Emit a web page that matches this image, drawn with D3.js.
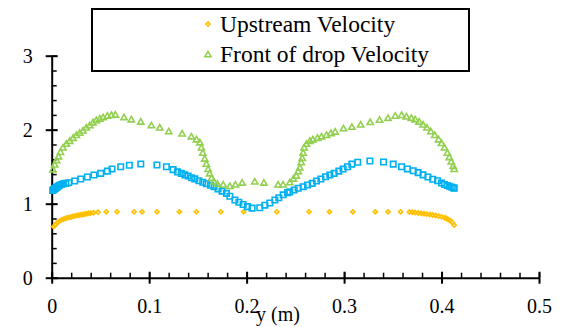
<!DOCTYPE html>
<html>
<head>
<meta charset="utf-8">
<script src="https://cdn.jsdelivr.net/npm/d3@7/dist/d3.min.js"></script>
<style>
  html, body { margin: 0; padding: 0; background: #fff; }
  svg { display: block; }
</style>
</head>
<body>
<svg id="chart" width="581" height="327"></svg>
<script>
// Velocity profiles across the channel width, y (m)
const upstream = [
  [0.002,0.69],[0.004,0.72],[0.006,0.745],[0.008,0.765],[0.010,0.78],[0.012,0.79],
  [0.014,0.80],[0.016,0.81],[0.018,0.815],[0.020,0.82],[0.022,0.83],[0.024,0.835],
  [0.026,0.84],[0.028,0.845],[0.030,0.85],[0.032,0.855],[0.034,0.86],[0.036,0.865],
  [0.038,0.87],[0.040,0.873],[0.043,0.877],[0.0475,0.885],[0.056,0.89],[0.067,0.89],
  [0.0845,0.89],[0.0927,0.89],[0.108,0.89],[0.131,0.89],[0.1485,0.89],[0.1735,0.89],
  [0.197,0.89],[0.231,0.89],[0.264,0.89],[0.285,0.89],[0.309,0.89],[0.332,0.89],
  [0.345,0.89],[0.358,0.89],[0.367,0.888],[0.370,0.885],[0.373,0.88],[0.376,0.875],
  [0.379,0.87],[0.382,0.865],[0.385,0.86],[0.388,0.855],[0.391,0.848],[0.394,0.84],
  [0.397,0.832],[0.400,0.822],[0.403,0.81],[0.405,0.8],[0.407,0.785],[0.409,0.77],
  [0.411,0.745],[0.413,0.71]
];

const rearDrop = [
  [0.001,1.18],[0.002,1.19],[0.003,1.2],[0.004,1.21],[0.005,1.22],[0.006,1.23],
  [0.007,1.24],[0.008,1.25],[0.010,1.26],[0.012,1.27],[0.0145,1.275],[0.0175,1.284],
  [0.0236,1.307],[0.0298,1.334],[0.0366,1.36],[0.0434,1.388],[0.0503,1.41],[0.0571,1.44],
  [0.0619,1.47],[0.0708,1.5],[0.0797,1.52],[0.0914,1.537],[0.108,1.523],[0.1177,1.5],
  [0.1246,1.46],[0.129,1.43],[0.133,1.41],[0.1366,1.39],[0.14,1.375],[0.1434,1.35],
  [0.1468,1.335],[0.151,1.31],[0.155,1.29],[0.1587,1.27],[0.163,1.25],[0.1666,1.23],
  [0.1707,1.2],[0.1748,1.17],[0.1793,1.14],[0.1828,1.1],[0.188,1.05],[0.192,1.02],
  [0.1964,0.99],[0.2008,0.96],[0.2056,0.94],[0.2135,0.946],[0.2187,0.98],[0.2238,1.01],
  [0.229,1.05],[0.233,1.08],[0.2375,1.12],[0.242,1.15],[0.2443,1.16],[0.2488,1.185],
  [0.2529,1.208],[0.258,1.23],[0.2625,1.253],[0.2673,1.275],[0.2717,1.307],[0.2762,1.334],
  [0.281,1.365],[0.2854,1.388],[0.2898,1.41],[0.2946,1.44],[0.299,1.468],[0.3035,1.5],
  [0.308,1.535],[0.314,1.56],[0.3265,1.577],[0.3405,1.563],[0.3504,1.535],[0.359,1.5],
  [0.365,1.47],[0.371,1.446],[0.376,1.42],[0.381,1.39],[0.386,1.36],[0.391,1.33],
  [0.396,1.31],[0.400,1.28],[0.403,1.26],[0.406,1.245],[0.408,1.235],[0.410,1.225],
  [0.412,1.215],[0.413,1.21]
];

const frontDrop = [
  [0.0013,1.455],[0.003,1.52],[0.005,1.58],[0.007,1.63],[0.009,1.69],[0.0116,1.75],
  [0.015,1.8],[0.0185,1.84],[0.0219,1.88],[0.0253,1.92],[0.0287,1.95],[0.0321,1.98],
  [0.0355,2.02],[0.039,2.05],[0.0424,2.09],[0.0458,2.12],[0.0493,2.14],[0.0527,2.16],
  [0.0571,2.18],[0.0613,2.19],[0.0653,2.195],[0.0742,2.16],[0.0817,2.13],[0.0914,2.1],
  [0.1023,2.05],[0.1109,2.02],[0.1201,1.97],[0.1338,1.94],[0.1433,1.9],[0.1485,1.86],
  [0.152,1.82],[0.1536,1.75],[0.155,1.68],[0.157,1.6],[0.1587,1.53],[0.1605,1.46],
  [0.162,1.4],[0.164,1.34],[0.1666,1.29],[0.170,1.26],[0.176,1.25],[0.1828,1.23],
  [0.1885,1.25],[0.1954,1.276],[0.2084,1.29],[0.2177,1.276],[0.2323,1.25],[0.2374,1.25],
  [0.2443,1.28],[0.248,1.33],[0.251,1.37],[0.253,1.43],[0.2546,1.48],[0.256,1.55],
  [0.257,1.61],[0.258,1.68],[0.259,1.75],[0.2614,1.8],[0.265,1.84],[0.268,1.86],
  [0.2727,1.88],[0.2768,1.9],[0.282,1.92],[0.2865,1.945],[0.2909,1.965],[0.2994,2.01],
  [0.308,2.03],[0.317,2.06],[0.3268,2.095],[0.3364,2.125],[0.345,2.15],[0.3525,2.18],
  [0.359,2.19],[0.364,2.17],[0.369,2.15],[0.373,2.13],[0.377,2.1],[0.381,2.06],
  [0.385,2.02],[0.389,1.97],[0.393,1.92],[0.397,1.86],[0.400,1.81],[0.403,1.75],
  [0.406,1.68],[0.408,1.62],[0.410,1.56],[0.412,1.5],[0.413,1.46]
];

const xTicks = [0, 0.1, 0.2, 0.3, 0.4, 0.5];
const xMinorTicks = d3.range(0, 0.5001, 0.02);
const yTicks = [0, 1, 2, 3];
const yMinorTicks = d3.range(0, 3.001, 0.2);
const legendLabels = ["Upstream Velocity", "Front of drop Velocity"];
const xTitle = "y (m)";

const colors = { upstream: "#FFC000", rear: "#00B0F0", front: "#92D050" };
const serif = "Liberation Serif";

const svg = d3.select("#chart");
const plotLeft = 51.7, plotRight = 539, plotTop = 55.7, plotBottom = 277.7;

const x = d3.scaleLinear().domain([0, 0.5]).range([plotLeft, plotRight]);
const y = d3.scaleLinear().domain([0, 3]).range([plotBottom, plotTop]);

// minor ticks pointing into the plot
svg.append("g")
  .attr("transform", `translate(0,${plotBottom})`)
  .call(d3.axisTop(x).tickValues(xMinorTicks).tickSize(5).tickFormat(""))
  .call(g => g.select(".domain").remove())
  .call(g => g.selectAll("line").attr("stroke", "#000").attr("stroke-width", 1.5));

svg.append("g")
  .attr("transform", `translate(${plotLeft},0)`)
  .call(d3.axisRight(y).tickValues(yMinorTicks).tickSize(5).tickFormat(""))
  .call(g => g.select(".domain").remove())
  .call(g => g.selectAll("line").attr("stroke", "#000").attr("stroke-width", 1.5));

// major axes with ticks crossing the axis line
const xAxis = svg.append("g")
  .attr("transform", `translate(0,${plotBottom})`)
  .call(d3.axisBottom(x).tickValues(xTicks).tickSize(6).tickSizeOuter(0).tickPadding(15)
    .tickFormat(d => d === 0 ? "0" : d3.format(".1f")(d)));
xAxis.select(".domain").attr("stroke", "#000").attr("stroke-width", 2);
xAxis.selectAll(".tick line").attr("y1", -6).attr("stroke", "#000").attr("stroke-width", 2);
xAxis.selectAll("text").attr("fill", "#000")
  .style("font-family", serif).style("font-size", "20px");

const yAxis = svg.append("g")
  .attr("transform", `translate(${plotLeft},0)`)
  .call(d3.axisLeft(y).tickValues(yTicks).tickSize(6).tickSizeOuter(0).tickPadding(13)
    .tickFormat(d3.format("d")));
yAxis.select(".domain").attr("stroke", "#000").attr("stroke-width", 2);
yAxis.selectAll(".tick line").attr("x1", 6).attr("stroke", "#000").attr("stroke-width", 2);
yAxis.selectAll("text").attr("fill", "#000")
  .style("font-family", serif).style("font-size", "20px");

// axis title
svg.append("text")
  .attr("x", 278).attr("y", 321)
  .attr("text-anchor", "middle")
  .style("font-family", serif).style("font-size", "20px")
  .text(xTitle);

// markers
const square = d3.symbol().type(d3.symbolSquare).size(30);
const triangle = d3.symbol().type(d3.symbolTriangle).size(17);
const diamond = d3.symbol().type(d3.symbolDiamond2).size(11);

function drawSeries(data, shape, color, sw) {
  svg.append("g")
    .selectAll("path")
    .data(data)
    .join("path")
    .attr("d", shape)
    .attr("transform", d => `translate(${x(d[0])},${y(d[1])})`)
    .attr("fill", "none")
    .attr("stroke", color)
    .attr("stroke-width", sw);
}

drawSeries(upstream, diamond, colors.upstream, 1.6);
drawSeries(rearDrop, square, colors.rear, 1.6);
drawSeries(frontDrop, triangle, colors.front, 1.6);

// legend
const legend = svg.append("g");
legend.append("rect")
  .attr("x", 92).attr("y", 9).attr("width", 377).attr("height", 62)
  .attr("fill", "#fff").attr("stroke", "#000").attr("stroke-width", 2);

const legendItems = [
  { label: legendLabels[0], shape: diamond, color: colors.upstream, cy: 24, base: 32 },
  { label: legendLabels[1], shape: triangle, color: colors.front, cy: 55, base: 62 }
];
legendItems.forEach(item => {
  legend.append("path")
    .attr("d", item.shape)
    .attr("transform", `translate(208,${item.cy})`)
    .attr("fill", "none").attr("stroke", item.color).attr("stroke-width", 1.6);
  legend.append("text")
    .attr("x", 220).attr("y", item.base)
    .style("font-family", serif).style("font-size", "23.5px")
    .text(item.label);
});
</script>
</body>
</html>
